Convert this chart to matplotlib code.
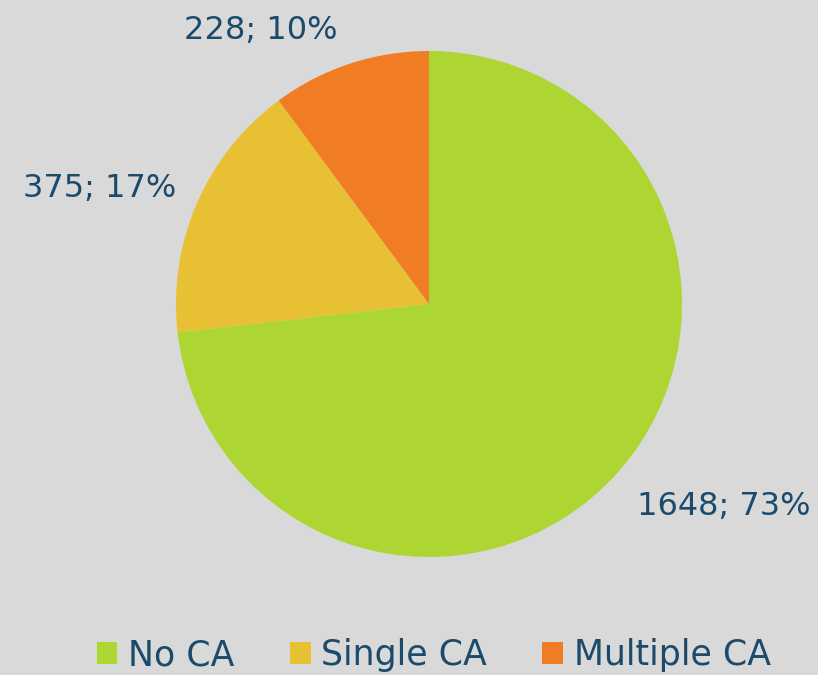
import matplotlib
matplotlib.use('Agg')
import matplotlib.pyplot as plt
from matplotlib.patches import Patch

categories = ['No CA', 'Single CA', 'Multiple CA']
counts     = [1648, 375, 228]
percents   = [73, 17, 10]
colors     = ['#ADD633', '#E8C033', '#F07D24']

bg_color   = '#D9D9D9'
text_color = '#1B4A6B'

W, H = 818, 675
fig = plt.figure(figsize=(W / 100, H / 100), dpi=100, facecolor=bg_color)

# pie placed by pixel centre/radius
cx, cy, r = 429, 304, 253
ax = fig.add_axes([(cx - r) / W, (H - cy - r) / H, 2 * r / W, 2 * r / H])
ax.set_facecolor(bg_color)

ax.pie(counts, colors=colors, startangle=90, counterclock=False,
       radius=1, wedgeprops=dict(linewidth=0))
ax.set_xlim(-1, 1)
ax.set_ylim(-1, 1)
ax.set_aspect('equal')
ax.axis('off')

label_pos = [(1.166, -0.802), (-1.300, 0.458), (-0.664, 1.083)]
for c, p, (lx, ly) in zip(counts, percents, label_pos):
    ax.text(lx, ly, f'{c}; {p}%', ha='center', va='center',
            fontsize=23, color=text_color, clip_on=False)

handles = [Patch(facecolor=col, edgecolor='none') for col in colors]
fig.legend(handles, categories, loc='center', bbox_to_anchor=(0.53, 1 - 655 / H),
           ncol=3, frameon=False, fontsize=25, labelcolor=text_color,
           handlelength=0.6, handleheight=0.6, handletextpad=0.3,
           columnspacing=1.6)

fig.savefig('out.png', dpi=100, facecolor=bg_color)
